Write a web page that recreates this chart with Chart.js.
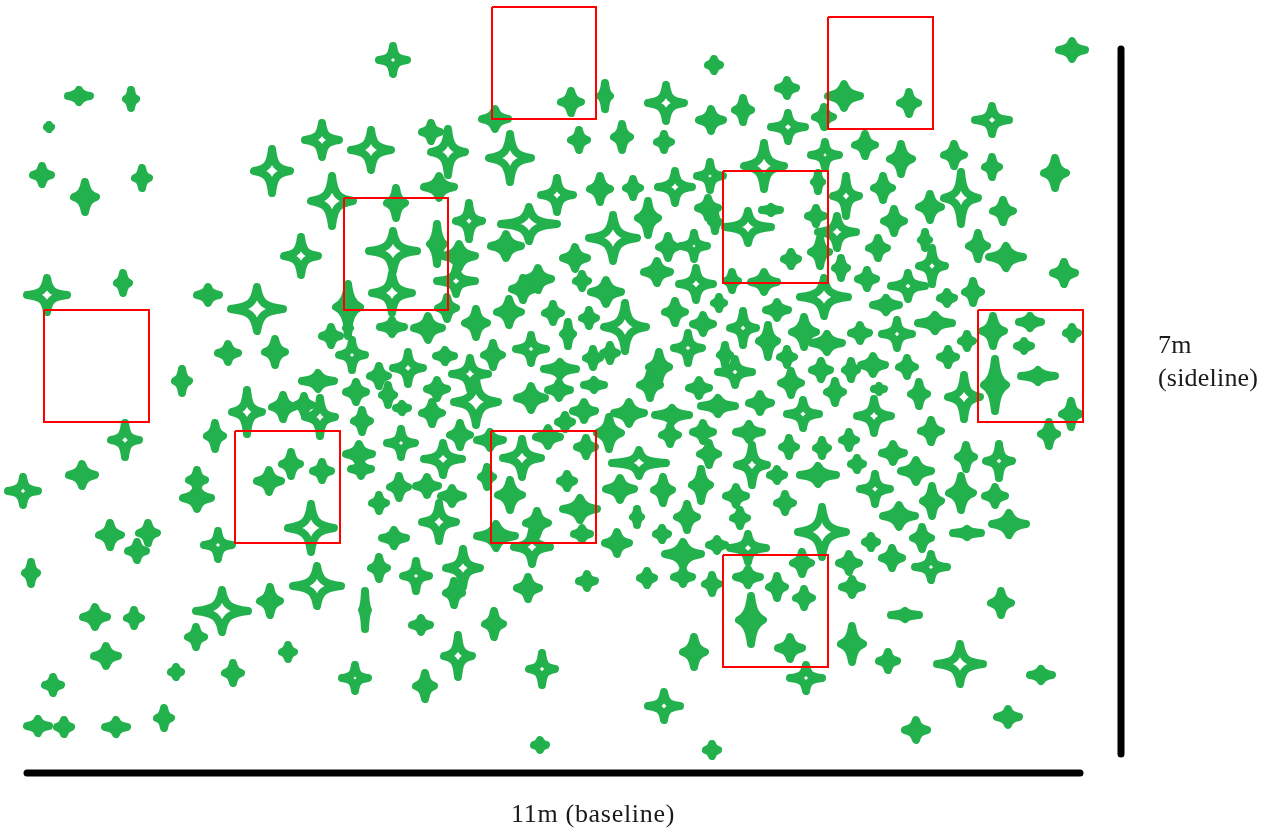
<!DOCTYPE html>
<html>
<head>
<meta charset="utf-8">
<title>Serve landing spots</title>
<script src="https://cdn.jsdelivr.net/npm/chart.js@4"></script>
<style>
  html, body { margin: 0; padding: 0; background: #fff; }
  canvas { display: block; }
</style>
</head>
<body>
<canvas id="court" width="1273" height="831"></canvas>
<script>
// Landing spots, in court units
const spotX = [
  79, 131, 49, 42, 85, 142, 272, 322, 332, 301,
  47, 123, 393, 571, 605, 666, 495, 579, 622, 431,
  448, 371, 510, 557, 600, 633, 439, 396, 469, 529,
  613, 506, 393, 437, 459, 575, 648, 538, 523, 582,
  657, 714, 787, 711, 743, 844, 909, 788, 824, 664,
  865, 825, 901, 954, 764, 710, 675, 846, 818, 816,
  883, 961, 930, 708, 715, 771, 748, 894, 837, 820,
  925, 932, 668, 694, 791, 878, 992, 992, 1055, 1003,
  978, 1006, 1064, 1072, 973, 841, 867, 908, 696, 732,
  764, 824, 208, 257, 228, 275, 331, 182, 318, 247,
  283, 304, 320, 125, 215, 82, 23, 197, 197, 291,
  269, 322, 311, 110, 148, 137, 218, 31, 95, 134,
  222, 270, 317, 196, 106, 176, 233, 288, 53, 38,
  64, 116, 164, 392, 456, 348, 348, 447, 392, 428,
  476, 509, 553, 606, 589, 625, 568, 531, 493, 445,
  408, 352, 593, 610, 470, 560, 559, 594, 379, 388,
  437, 356, 476, 531, 432, 402, 362, 584, 565, 629,
  460, 490, 548, 609, 401, 443, 522, 586, 359, 361,
  639, 567, 620, 487, 510, 399, 427, 379, 452, 580,
  637, 439, 537, 532, 582, 496, 394, 617, 379, 416,
  463, 454, 528, 587, 647, 365, 421, 494, 458, 542,
  355, 425, 540, 664, 719, 675, 743, 703, 777, 886,
  947, 935, 860, 897, 768, 804, 827, 688, 967, 948,
  725, 735, 787, 659, 650, 821, 851, 873, 907, 964,
  791, 835, 879, 919, 699, 718, 760, 803, 874, 672,
  670, 703, 709, 749, 931, 789, 822, 849, 893, 857,
  752, 777, 818, 916, 966, 663, 701, 875, 932, 961,
  736, 785, 740, 899, 687, 822, 662, 871, 922, 967,
  683, 683, 717, 748, 712, 748, 802, 777, 804, 849,
  852, 892, 931, 905, 751, 790, 852, 694, 888, 960,
  806, 916, 712, 1001, 1041, 1008, 993, 1030, 1072, 1024,
  995, 1038, 1071, 1049, 999, 995, 1009
];
const spotY = [
  96, 99, 127, 175, 197, 178, 171, 140, 201, 256,
  295, 283, 60, 102, 96, 103, 119, 140, 137, 132,
  152, 150, 158, 195, 189, 188, 187, 203, 221, 224,
  238, 246, 251, 244, 256, 258, 218, 279, 289, 281,
  272, 65, 88, 120, 110, 96, 103, 127, 117, 142,
  145, 155, 159, 155, 166, 176, 187, 196, 182, 216,
  188, 198, 207, 208, 222, 210, 227, 221, 232, 252,
  240, 266, 247, 246, 259, 248, 167, 120, 173, 211,
  246, 257, 273, 50, 292, 268, 279, 286, 284, 281,
  282, 297, 295, 309, 353, 352, 336, 381, 381, 412,
  407, 405, 417, 440, 436, 475, 491, 480, 498, 464,
  481, 471, 528, 535, 533, 551, 545, 573, 617, 618,
  611, 601, 586, 637, 656, 672, 673, 652, 685, 726,
  727, 727, 718, 293, 281, 307, 328, 308, 327, 328,
  323, 312, 313, 292, 318, 327, 334, 349, 355, 356,
  368, 355, 358, 353, 374, 369, 390, 385, 376, 395,
  389, 392, 402, 398, 413, 408, 421, 411, 422, 413,
  435, 440, 437, 433, 443, 459, 458, 447, 454, 469,
  463, 481, 489, 477, 495, 487, 486, 503, 496, 509,
  517, 522, 523, 547, 534, 536, 538, 543, 568, 576,
  568, 593, 588, 581, 578, 610, 625, 624, 656, 669,
  678, 686, 745, 706, 303, 312, 328, 324, 310, 305,
  298, 323, 333, 334, 341, 332, 343, 348, 341, 357,
  355, 372, 357, 367, 385, 370, 370, 365, 367, 397,
  383, 392, 389, 394, 388, 406, 403, 414, 416, 415,
  435, 432, 454, 432, 431, 447, 448, 440, 453, 464,
  465, 475, 475, 471, 457, 490, 485, 489, 501, 493,
  496, 503, 518, 516, 517, 532, 534, 542, 538, 533,
  554, 577, 545, 548, 584, 577, 563, 587, 598, 563,
  587, 558, 567, 615, 620, 648, 644, 652, 661, 664,
  678, 730, 750, 603, 675, 717, 331, 322, 333, 346,
  385, 376, 414, 434, 461, 496, 524
];
// How far each spot spreads sideways and along the court
const spreadX = [
  15, 9, 6, 13, 15, 11, 22, 21, 25, 21,
  24, 10, 18, 14, 9, 22, 17, 12, 12, 13,
  21, 24, 25, 20, 14, 11, 19, 13, 17, 32,
  28, 19, 28, 11, 20, 16, 14, 17, 15, 10,
  17, 10, 13, 16, 12, 20, 13, 21, 13, 11,
  14, 18, 15, 14, 24, 17, 21, 17, 8, 12,
  13, 21, 15, 14, 8, 13, 27, 14, 23, 13,
  8, 17, 13, 17, 11, 13, 11, 21, 15, 14,
  13, 21, 15, 17, 12, 10, 13, 21, 21, 10,
  17, 28, 15, 30, 14, 14, 13, 11, 20, 19,
  15, 12, 19, 18, 12, 17, 19, 12, 18, 13,
  16, 13, 27, 15, 13, 13, 18, 10, 16, 11,
  30, 14, 28, 12, 16, 9, 12, 10, 12, 15,
  11, 15, 11, 24, 23, 16, 6, 13, 16, 18,
  15, 16, 12, 19, 11, 25, 9, 19, 13, 13,
  19, 17, 11, 11, 22, 20, 15, 14, 13, 10,
  14, 14, 26, 18, 14, 10, 12, 15, 11, 19,
  14, 17, 16, 16, 18, 23, 23, 13, 17, 14,
  31, 11, 18, 10, 16, 13, 15, 11, 15, 21,
  8, 21, 15, 22, 12, 23, 16, 16, 12, 17,
  21, 12, 15, 12, 11, 7, 13, 13, 18, 17,
  17, 13, 10, 20, 9, 14, 17, 14, 15, 17,
  11, 21, 13, 19, 13, 16, 19, 18, 10, 12,
  9, 21, 11, 14, 14, 13, 10, 16, 12, 20,
  14, 12, 9, 12, 14, 21, 15, 20, 21, 21,
  12, 14, 13, 17, 14, 11, 10, 11, 15, 10,
  19, 11, 22, 19, 12, 13, 13, 19, 13, 16,
  14, 12, 11, 20, 14, 28, 10, 10, 13, 18,
  22, 13, 12, 22, 11, 16, 13, 12, 12, 14,
  14, 14, 20, 18, 16, 16, 15, 15, 13, 27,
  20, 15, 10, 14, 15, 15, 15, 15, 10, 11,
  15, 21, 13, 12, 17, 14, 21
];
const spreadY = [
  10, 13, 6, 13, 19, 14, 26, 21, 29, 23,
  21, 14, 18, 15, 17, 22, 14, 14, 17, 13,
  27, 24, 28, 21, 17, 13, 15, 19, 22, 21,
  27, 16, 24, 24, 16, 15, 21, 15, 15, 11,
  15, 10, 12, 15, 16, 16, 15, 18, 14, 12,
  15, 17, 19, 15, 27, 18, 20, 24, 13, 12,
  16, 30, 17, 14, 13, 7, 20, 16, 20, 18,
  12, 22, 15, 17, 11, 14, 14, 18, 19, 15,
  17, 15, 15, 13, 15, 14, 13, 17, 20, 13,
  14, 23, 12, 26, 13, 17, 13, 16, 12, 26,
  16, 13, 23, 21, 17, 15, 18, 14, 15, 16,
  15, 13, 28, 16, 14, 13, 18, 15, 14, 12,
  25, 18, 24, 14, 14, 9, 14, 11, 12, 11,
  11, 11, 14, 24, 17, 27, 12, 15, 11, 16,
  18, 17, 13, 16, 12, 28, 16, 18, 16, 10,
  20, 19, 13, 12, 20, 11, 12, 9, 14, 14,
  13, 14, 27, 16, 15, 8, 15, 13, 11, 15,
  16, 12, 13, 20, 18, 20, 23, 13, 14, 11,
  17, 11, 15, 14, 19, 15, 13, 12, 12, 15,
  12, 23, 16, 21, 10, 16, 12, 15, 15, 19,
  23, 16, 15, 11, 11, 23, 11, 17, 25, 20,
  17, 17, 9, 18, 10, 15, 21, 13, 12, 11,
  10, 12, 12, 18, 20, 19, 13, 19, 11, 12,
  14, 17, 12, 19, 17, 13, 13, 13, 13, 26,
  16, 15, 7, 16, 12, 12, 13, 18, 21, 11,
  13, 13, 15, 12, 15, 13, 12, 12, 13, 10,
  24, 10, 13, 15, 16, 17, 20, 19, 19, 21,
  13, 13, 12, 15, 17, 29, 10, 10, 15, 8,
  16, 11, 10, 18, 13, 12, 15, 15, 13, 13,
  12, 14, 17, 8, 28, 15, 22, 19, 13, 24,
  17, 14, 10, 16, 10, 12, 19, 10, 10, 9,
  30, 10, 17, 16, 21, 13, 15
];

// Red sample boxes
const boxLeft = [492, 828, 723, 344, 44, 978, 235, 491, 723];
const boxRight = [596, 933, 828, 448, 149, 1083, 340, 596, 828];
const boxTop = [7, 17, 171, 198, 310, 310, 431, 431, 555];
const boxBottom = [119, 129, 283, 310, 422, 422, 543, 543, 667];

// Court edges
const baselineX = [27, 1080];
const baselineY = [773, 773];
const sidelineX = [1121, 1121];
const sidelineY = [49, 754];

const GREEN = "#22b14c";

function makeStar(sx, sy) {
  const pen = 8;
  const solid = Math.min(sx, sy) < 17;
  const w = Math.max(sx - pen / 2, 1);
  const h = Math.max(sy - pen / 2, 1);
  const c = document.createElement("canvas");
  c.width = Math.ceil(sx * 2 + 4);
  c.height = Math.ceil(sy * 2 + 4);
  const g = c.getContext("2d");
  g.translate(c.width / 2, c.height / 2);
  g.strokeStyle = GREEN;
  g.fillStyle = GREEN;
  g.lineWidth = pen;
  g.lineJoin = "round";
  g.lineCap = "round";
  // small stars have a fatter body, big ones stay hollow
  const p = solid ? 0.4 : 0.28;
  const q = solid ? 0.15 : 0.1;
  g.beginPath();
  g.moveTo(w, 0);
  g.bezierCurveTo(p * w, q * h, q * w, p * h, 0, h);
  g.bezierCurveTo(-q * w, p * h, -p * w, q * h, -w, 0);
  g.bezierCurveTo(-p * w, -q * h, -q * w, -p * h, 0, -h);
  g.bezierCurveTo(q * w, -p * h, p * w, -q * h, w, 0);
  g.closePath();
  g.stroke();
  if (solid) g.fill();
  return c;
}

const datasets = [{
  label: "spots",
  data: spotX.map((x, i) => ({ x: x, y: spotY[i] })),
  pointStyle: spotX.map((x, i) => makeStar(spreadX[i], spreadY[i])),
  pointRadius: 3,
  showLine: false,
  order: 3
}];

boxLeft.forEach((l, i) => {
  const r = boxRight[i], t = boxTop[i], b = boxBottom[i];
  datasets.push({
    label: "box " + i,
    data: [{ x: l, y: t }, { x: r, y: t }, { x: r, y: b }, { x: l, y: b }, { x: l, y: t }],
    showLine: true,
    borderColor: "#ff0000",
    borderWidth: 2,
    borderJoinStyle: "miter",
    pointRadius: 0,
    order: 2
  });
});

[[baselineX, baselineY], [sidelineX, sidelineY]].forEach(edge => {
  datasets.push({
    label: "edge",
    data: edge[0].map((x, i) => ({ x: x, y: edge[1][i] })),
    showLine: true,
    borderColor: "#000000",
    borderWidth: 7,
    borderCapStyle: "round",
    pointRadius: 0,
    order: 1
  });
});

const courtLabels = {
  id: "courtLabels",
  afterDraw(chart) {
    const { ctx, scales } = chart;
    ctx.save();
    ctx.fillStyle = "#1a1a1a";
    ctx.textBaseline = "alphabetic";
    ctx.textAlign = "left";
    ctx.font = "26px 'Liberation Serif', serif";
    ctx.letterSpacing = "0.7px";
    ctx.fillText("11m (baseline)", scales.x.getPixelForValue(511), scales.y.getPixelForValue(822));
    ctx.letterSpacing = "0.2px";
    ctx.fillText("7m", scales.x.getPixelForValue(1158), scales.y.getPixelForValue(353));
    ctx.fillText("(sideline)", scales.x.getPixelForValue(1158), scales.y.getPixelForValue(386));
    ctx.restore();
  }
};

new Chart(document.getElementById("court"), {
  type: "scatter",
  data: { datasets: datasets },
  options: {
    responsive: false,
    animation: false,
    layout: { padding: 0, autoPadding: false },
    plugins: { legend: { display: false }, tooltip: { enabled: false } },
    scales: {
      x: { type: "linear", min: 0, max: 1273, display: false },
      y: { type: "linear", min: 0, max: 831, reverse: true, display: false }
    }
  },
  plugins: [courtLabels]
});
</script>
</body>
</html>
